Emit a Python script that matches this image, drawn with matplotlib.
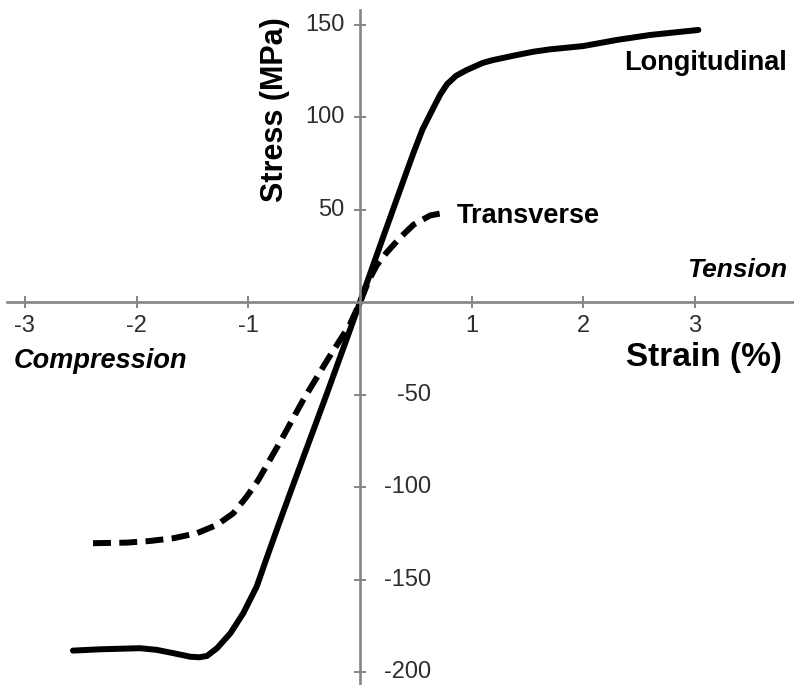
import matplotlib
matplotlib.use("Agg")
import matplotlib.pyplot as plt

plt.rcParams["font.family"] = ["Liberation Sans", "DejaVu Sans"]
plt.rcParams["axes.unicode_minus"] = False

# Longitudinal curve (strain %, stress MPa)
long_strain = [-2.57, -2.33, -1.97, -1.82, -1.67, -1.52, -1.44, -1.37, -1.28,
               -1.16, -1.045, -0.925, -0.82, -0.73, -0.6, -0.3, 0.0, 0.2,
               0.39, 0.48, 0.56, 0.66, 0.72, 0.78, 0.86, 0.955, 1.1, 1.19,
               1.4, 1.55, 1.7, 2.0, 2.3, 2.6, 3.03]
long_stress = [-188.4, -187.7, -187.1, -188.0, -189.8, -191.7, -192.0, -191.3,
               -187.1, -179.0, -168.2, -153.8, -135.7, -120.5, -99.0, -50.0,
               0.0, 34.0, 66.0, 81.0, 93.5, 105.5, 112.5, 118.0, 122.5,
               125.6, 129.5, 131.0, 133.7, 135.5, 136.8, 138.6, 141.9,
               144.6, 147.3]

# Transverse curve
trans_strain = [-2.39, -2.09, -1.88, -1.67, -1.46, -1.28, -1.134, -1.014,
                -0.91, -0.71, -0.51, -0.29, -0.09, 0.0, 0.08, 0.15, 0.24,
                0.36, 0.48, 0.63, 0.72]
trans_stress = [-130.3, -130.0, -129.1, -127.6, -124.9, -120.4, -114.1,
                -105.1, -96.1, -75.0, -53.0, -31.0, -12.0, 0.0, 12.0, 20.0,
                27.0, 35.0, 42.0, 47.0, 48.0]

x_ticks = [-3, -2, -1, 1, 2, 3]
y_ticks = [-200, -150, -100, -50, 50, 100, 150]

AXIS_GRAY = "#858585"
LABEL_GRAY = "#2e2e2e"

fig = plt.figure(figsize=(7.94, 6.85), dpi=100)
ax = fig.add_axes([0, 0, 1, 1])
ax.set_xlim(-3.223, 3.886)
ax.set_ylim(-207, 163.5)

ax.plot(long_strain, long_stress, color="black", lw=4.3,
        solid_capstyle="round", solid_joinstyle="round")
ax.plot(trans_strain, trans_stress, color="black", lw=4.3,
        dashes=(3.0, 1.4), dash_capstyle="butt")

for side in ["top", "right"]:
    ax.spines[side].set_visible(False)
ax.spines["left"].set_position(("data", 0))
ax.spines["bottom"].set_position(("data", 0))
ax.spines["left"].set_bounds(-207, 158)
ax.spines["bottom"].set_bounds(-3.16, 3.886)
for side in ["left", "bottom"]:
    ax.spines[side].set_color(AXIS_GRAY)
    ax.spines[side].set_linewidth(1.9)

ax.set_xticks(x_ticks)
ax.set_xticklabels([str(t) for t in x_ticks])
ax.set_yticks(y_ticks)
ax.set_yticklabels([])
ax.tick_params(direction="inout", length=9, width=1.4, color=AXIS_GRAY)
ax.tick_params(axis="x", pad=5, labelsize=17, labelcolor=LABEL_GRAY)

# y tick labels: positive on the left, negative on the right of the axis
for t in y_ticks:
    if t > 0:
        ax.annotate(str(t), (0, t), xytext=(-11, 0), textcoords="offset points",
                    ha="right", va="center", fontsize=17, color=LABEL_GRAY)
    else:
        ax.annotate(str(t), (0, t), xytext=(51, 0), textcoords="offset points",
                    ha="right", va="center", fontsize=17, color=LABEL_GRAY)

ax.set_ylabel("Stress (MPa)", fontsize=22, fontweight="bold")
ax.yaxis.set_label_coords(-0.761, 104, transform=ax.transData)
ax.yaxis.label.set_va("center")
ax.set_xlabel("Strain (%)", fontsize=24, fontweight="bold")
ax.xaxis.set_label_coords(3.08, -30.1, transform=ax.transData)
ax.xaxis.label.set_va("center")

ax.text(3.098, 125.6, "Longitudinal", fontsize=19.5, fontweight="bold",
        ha="center", va="baseline")
ax.text(1.504, 42.8, "Transverse", fontsize=19.5, fontweight="bold",
        ha="center", va="baseline")
ax.text(3.375, 13.7, "Tension", fontsize=19, fontweight="bold",
        fontstyle="italic", ha="center", va="baseline")
ax.text(-2.319, -35.5, "Compression", fontsize=19.5, fontweight="bold",
        fontstyle="italic", ha="center", va="baseline")

fig.savefig("out.png", dpi=100)
